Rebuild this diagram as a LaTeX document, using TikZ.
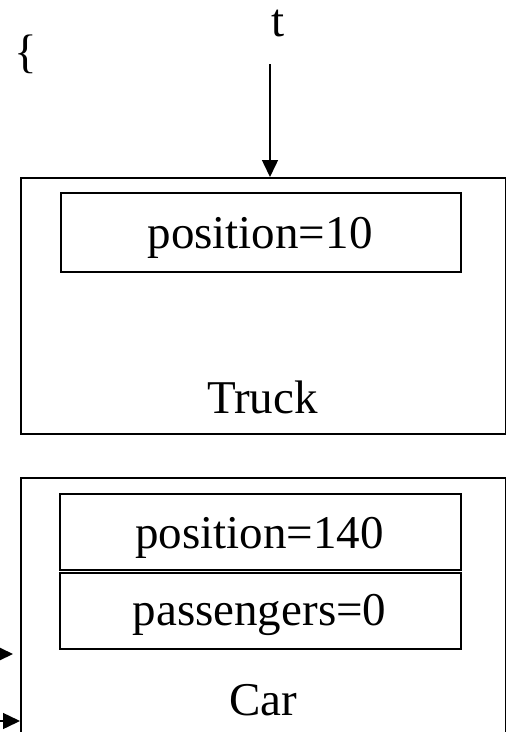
\documentclass[tikz,border=0pt]{standalone}
\usepackage{fontspec}
\setmainfont{Liberation Serif}
\usetikzlibrary{arrows.meta}
\begin{document}
\begin{tikzpicture}[x=1pt,y=-1pt,
  box/.style={draw,line width=1.8pt,rectangle,inner sep=0pt,anchor=north west},
  lbl/.style={font=\fontsize{47}{56}\selectfont,inner sep=0pt,anchor=base},
  arr/.style={line width=1.5pt,-{Triangle[length=17pt,width=16pt]}}]
\useasboundingbox (0,0) rectangle (506,732);
\clip (0,0) rectangle (506,732);
% Truck
\node[box,minimum width=485pt,minimum height=256pt] (truck) at (20,177) {};
\node[box,minimum width=400pt,minimum height=79pt] (tpos) at (60,192) {};
\node[lbl] (tposl) at (260,248) {position=10};
\node[lbl] (truckl) at (262.5,413) {Truck};
% Car
\node[box,minimum width=485pt,minimum height=290pt] (car) at (20,477) {};
\node[box,minimum width=401pt,minimum height=76pt] (cpos) at (59,493) {};
\node[box,minimum width=401pt,minimum height=76pt] (cpas) at (59,572) {};
\node[lbl] (cposl) at (259.5,548) {position=140};
\node[lbl] (cpasl) at (259.5,625) {passengers=0};
\node[lbl] (carl) at (263,715) {Car};
% t and brace
\node[lbl] (tl) at (278,36) {t};
\node[lbl,anchor=base west] (brace) at (14,67) {\{};
\coordinate (ts) at (270,64);
\draw[arr] (ts) -- (ts |- truck.north);
% left arrows
\coordinate (a1s) at (-30,654);
\coordinate (a1e) at (13,654);
\draw[arr] (a1s) -- (a1e);
\coordinate (a2s) at (-30,721);
\draw[arr] (a2s) -- (a2s -| car.west);
\end{tikzpicture}
\end{document}
